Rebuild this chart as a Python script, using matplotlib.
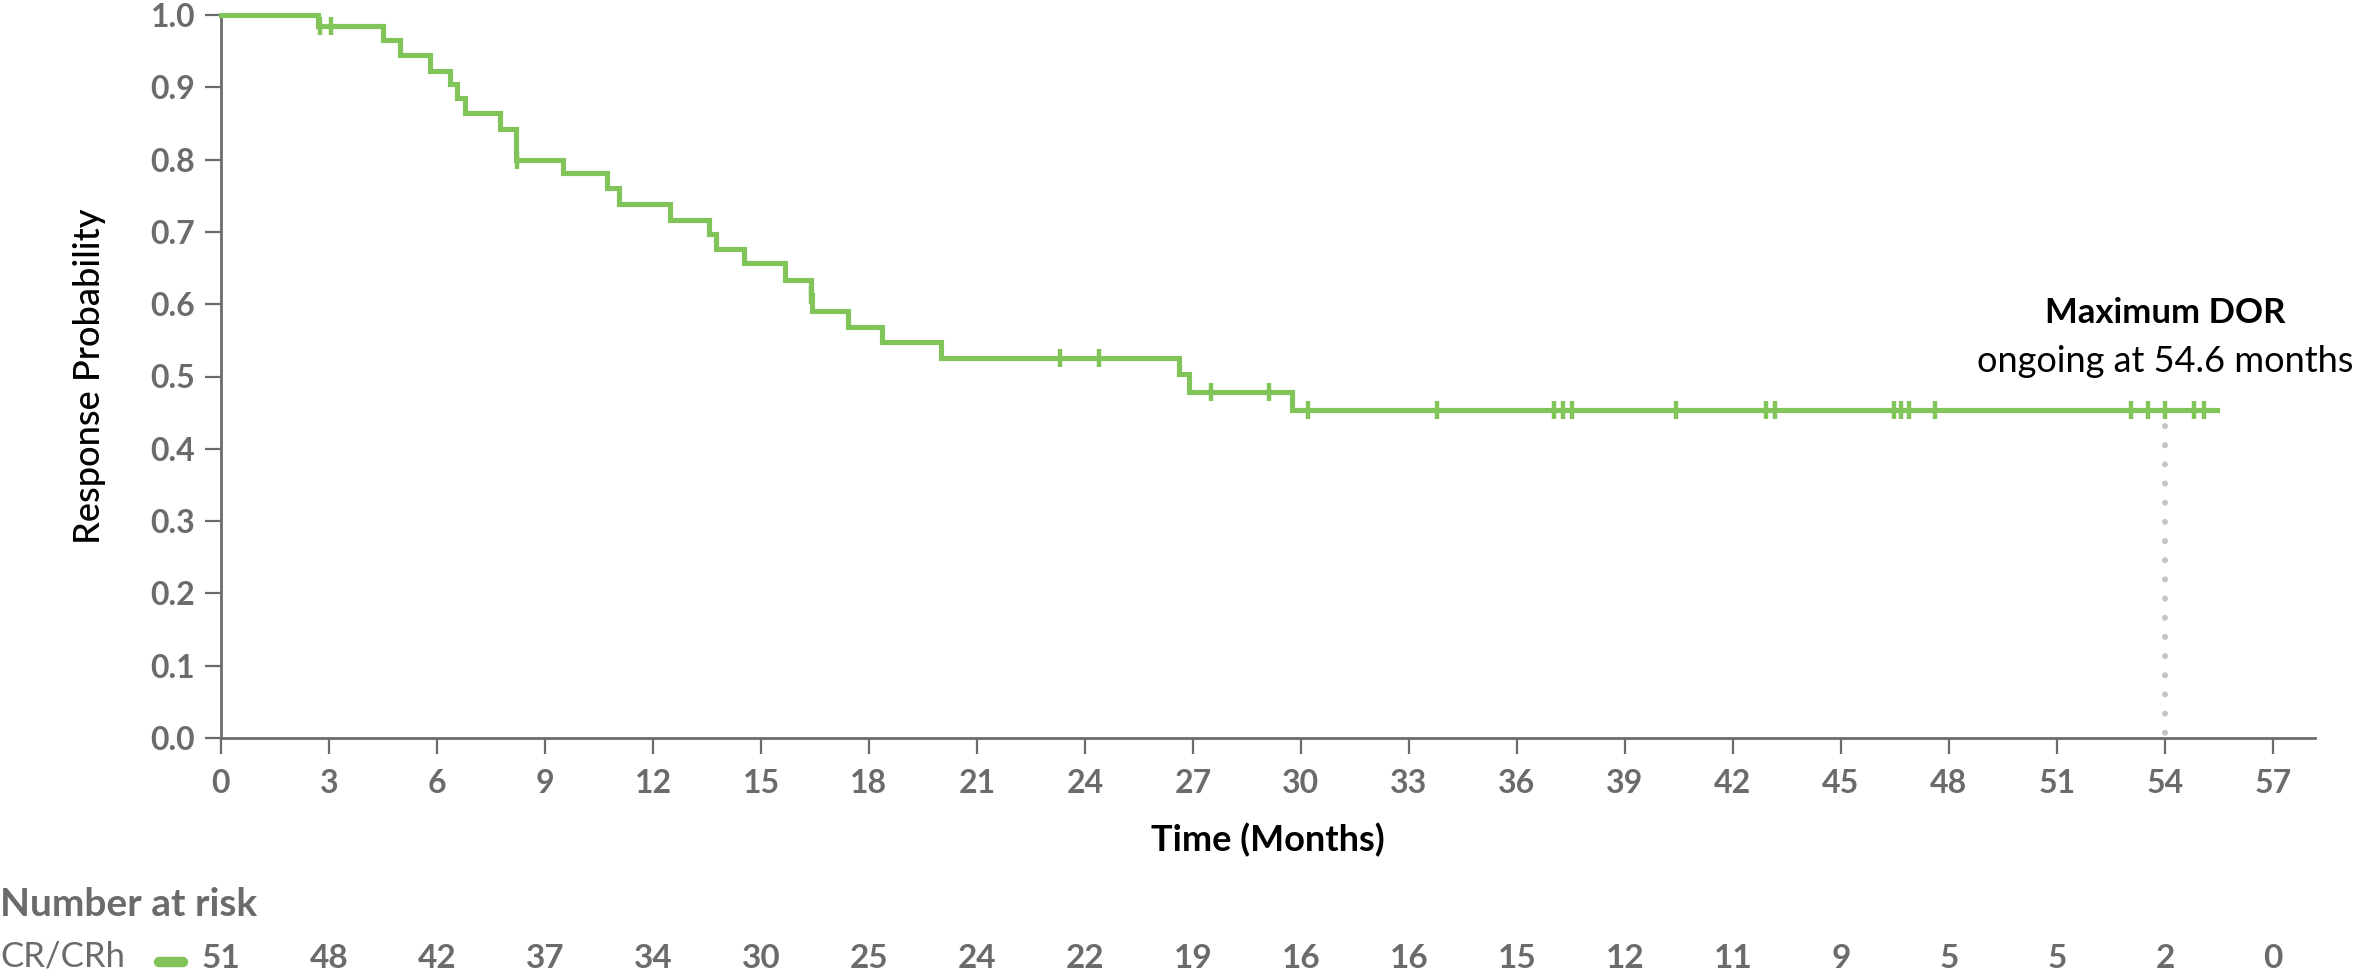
import numpy as np
import matplotlib
matplotlib.use("Agg")
import matplotlib.pyplot as plt
from matplotlib.lines import Line2D
from matplotlib.transforms import blended_transform_factory

# ---------------- data ----------------
event_times = [0, 2.70, 4.50, 4.97, 5.80, 6.36, 6.55, 6.77, 7.75, 8.20, 9.50, 10.73,
               11.07, 12.47, 13.55, 13.74, 14.52, 15.67, 16.38, 16.42, 17.41, 18.36,
               20.00, 26.60, 26.90, 29.76]
survival = [1.0, 0.985, 0.966, 0.945, 0.923, 0.905, 0.885, 0.864, 0.843, 0.800, 0.781,
            0.761, 0.739, 0.716, 0.697, 0.676, 0.657, 0.634, 0.613, 0.590, 0.569, 0.548,
            0.525, 0.504, 0.479, 0.453]
end_time = 55.46
censor_times = [2.75, 3.05, 8.22, 16.40, 23.3, 24.4, 27.5, 29.1, 30.2, 33.78, 37.02,
                37.27, 37.54, 40.43, 42.91, 43.17, 46.48, 46.66, 46.89, 47.62, 53.06,
                53.53, 54.0, 54.8, 55.1]
max_dor_time = 54.0

x_ticks = list(range(0, 58, 3))
y_ticks = [round(0.1 * i, 1) for i in range(11)]
at_risk = [51, 48, 42, 37, 34, 30, 25, 24, 22, 19, 16, 16, 15, 12, 11, 9, 5, 5, 2, 0]
series_name = "CR/CRh"

# ---------------- style ----------------
GREEN = "#80c45a"
GRAY = "#6b6b6b"
FONT = ["Lato", "DejaVu Sans"]
plt.rcParams["font.family"] = FONT

W, H = 2362, 976
fig = plt.figure(figsize=(W / 100, H / 100), dpi=100)
ax = fig.add_axes([221 / W, 1 - 738 / H, (2315 - 221) / W, (738 - 15) / H])

# step curve
xs = list(event_times) + [end_time]
ys = list(survival) + [survival[-1]]
ax.step(xs, ys, where="post", color=GREEN, lw=3.7, clip_on=False, zorder=3,
        solid_joinstyle="miter")

# censor marks
idx = np.searchsorted(np.array(event_times), np.array(censor_times), side="right") - 1
cy = np.array(survival)[idx]
ax.plot(censor_times, cy, linestyle="none", marker="|", markersize=13,
        markeredgewidth=3.2, color=GREEN, clip_on=False, zorder=4)

# max DOR dotted line
midx = np.searchsorted(np.array(event_times), max_dor_time, side="right") - 1
ax.plot([max_dor_time, max_dor_time], [survival[midx] - 0.022, 0], color="#c4c4c4",
        lw=4.3, linestyle=(0, (0.01, 3.2)), dash_capstyle="round", zorder=2,
        clip_on=False)
ax.text(max_dor_time, 0.588, "Maximum DOR", ha="center", va="center",
        fontsize=25, fontweight="bold", color="black")
ax.text(max_dor_time, 0.521, "ongoing at 54.6 months", ha="center", va="center",
        fontsize=26, color="black")

# axes
ax.set_xlim(0, 58.17)
ax.set_ylim(0, 1.0)
ax.set_xticks(x_ticks)
ax.set_yticks(y_ticks)
ax.set_yticklabels([f"{v:.1f}" for v in y_ticks])
for s in ["top", "right"]:
    ax.spines[s].set_visible(False)
for s in ["left", "bottom"]:
    ax.spines[s].set_color(GRAY)
    ax.spines[s].set_linewidth(2.0)
ax.tick_params(axis="both", direction="out", length=11.5, width=1.6, color=GRAY,
               labelcolor=GRAY, labelsize=23)
ax.tick_params(axis="y", pad=7)
ax.tick_params(axis="x", pad=11)
for lab in ax.get_xticklabels() + ax.get_yticklabels():
    lab.set_fontweight("bold")

ax.set_ylabel("Response Probability", fontsize=26, fontweight="medium", color="black",
              va="center")
ax.yaxis.set_label_coords((90 - 221) / 2094, 0.5)
ax.set_xlabel("Time (Months)", fontsize=26, fontweight="bold", color="black",
              va="center")
ax.xaxis.set_label_coords(0.5, (738 - 840) / 723)

# number at risk table
fig.text(0, 1 - 904 / H, "Number at risk", ha="left", va="center", fontsize=28,
         fontweight="bold", color=GRAY)
fig.text(0, 1 - 957 / H, series_name, ha="left", va="center", fontsize=25,
         color=GRAY)
fig.add_artist(Line2D([159 / W, 183 / W], [1 - 962 / H, 1 - 962 / H], color=GREEN,
                      lw=7.5, solid_capstyle="round", transform=fig.transFigure))
tr = blended_transform_factory(ax.transData, fig.transFigure)
for t, n in zip(x_ticks, at_risk):
    ax.text(t, 1 - 958 / H, str(n), ha="center", va="center", fontsize=24,
            fontweight="bold", color=GRAY, transform=tr, clip_on=False)

fig.savefig("out.png", dpi=100)
